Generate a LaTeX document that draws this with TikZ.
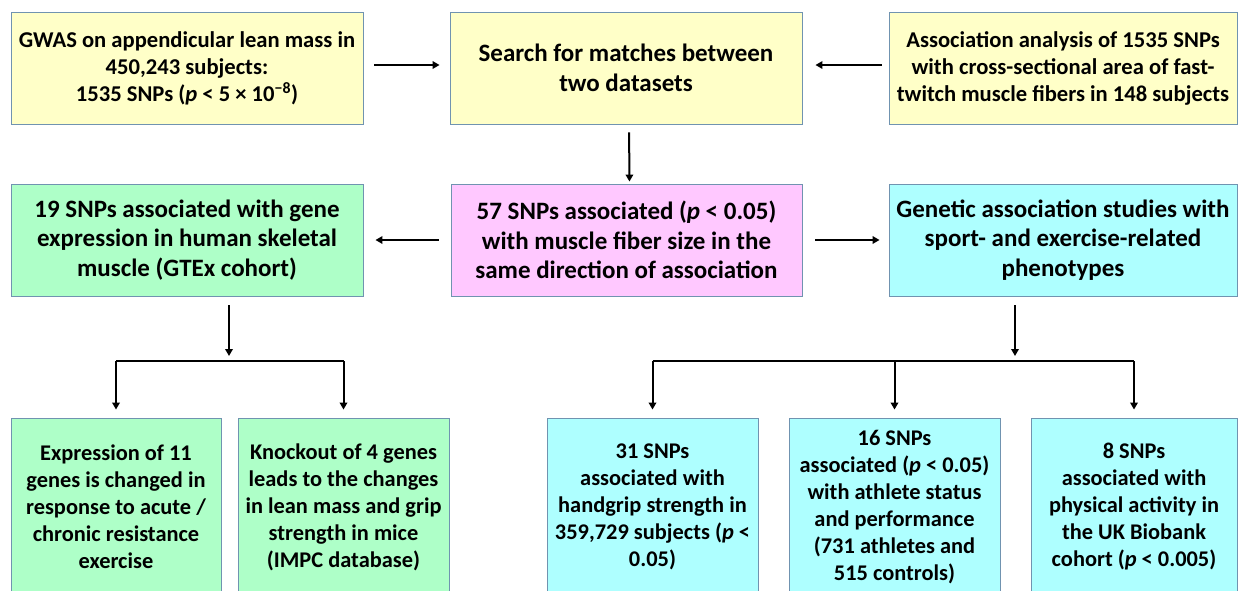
\documentclass[tikz,border=0pt]{standalone}
\usepackage{fontspec}
\setmainfont{Carlito}
\usetikzlibrary{arrows.meta}
\definecolor{byel}{HTML}{FFFFC8}
\definecolor{bgrn}{HTML}{AEFFC8}
\definecolor{bpnk}{HTML}{FFC8FF}
\definecolor{bcyn}{HTML}{AEFFFF}
\definecolor{bedge}{HTML}{7093B0}
\tikzset{
  box/.style={draw=bedge, line width=0.9pt, inner sep=0pt, align=center,
    font=\fontsize{22.6}{27}\selectfont\bfseries, minimum height=112pt},
  bigbox/.style={box, font=\fontsize{25}{29.5}\selectfont\bfseries},
  lowbox/.style={box, minimum height=178pt, font=\fontsize{22.4}{27}\selectfont\bfseries},
  arr/.style={line width=2pt, -{Triangle[length=7pt,width=7.5pt]}},
  bar/.style={line width=2pt}
}
\begin{document}
\begin{tikzpicture}[x=1pt,y=-1pt]
\useasboundingbox (0,0) rectangle (1239,590);
\clip (0,0) rectangle (1239,590);
\fill[white] (0,0) rectangle (1239,590);
% top row
\node[box, fill=byel, minimum width=352pt] (A) at (187,68)
  {GWAS on appendicular lean mass in\\450,243 subjects:\\1535 SNPs (\textit{p} < 5 × 10\textsuperscript{−8})};
\node[bigbox, fill=byel, minimum width=352pt] (B) at (626,68)
  {Search for matches between\\two datasets};
\node[box, fill=byel, minimum width=348pt] (C) at (1063,68)
  {Association analysis of 1535 SNPs\\with cross-sectional area of fast-\\twitch muscle fibers in 148 subjects};
% middle row
\node[bigbox, fill=bgrn, minimum width=352pt] (D) at (187,240)
  {19 SNPs associated with gene\\expression in human skeletal\\muscle (GTEx cohort)};
\node[bigbox, fill=bpnk, minimum width=351pt] (E) at (626.5,240)
  {57 SNPs associated (\textit{p} < 0.05)\\with muscle fiber size in the\\same direction of association};
\node[bigbox, fill=bcyn, minimum width=348pt] (F) at (1063,240)
  {Genetic association studies with\\sport- and exercise-related\\phenotypes};
% bottom row
\node[lowbox, fill=bgrn, minimum width=210pt] (G) at (116,507)
  {Expression of 11\\genes is changed in\\response to acute /\\chronic resistance\\exercise};
\node[lowbox, fill=bgrn, minimum width=211pt] (H) at (343.5,507)
  {Knockout of 4 genes\\leads to the changes\\in lean mass and grip\\strength in mice\\(IMPC database)};
\node[lowbox, fill=bcyn, minimum width=211pt] (I) at (652.5,507)
  {31 SNPs\\associated with\\handgrip strength in\\359,729 subjects (\textit{p} <\\0.05)};
\node[lowbox, fill=bcyn, minimum width=211pt] (J) at (894.5,507)
  {16 SNPs\\associated (\textit{p} < 0.05)\\with athlete status\\and performance\\(731 athletes and\\515 controls)};
\node[lowbox, fill=bcyn, minimum width=206pt] (K) at (1134,507)
  {8 SNPs\\associated with\\physical activity in\\the UK Biobank\\cohort (\textit{p} < 0.005)};
% junction coordinates
\coordinate (bl) at (229,361);
\coordinate (br) at (1015,361);
% top arrows
\draw[arr, shorten <=11pt, shorten >=10pt] ([yshift=3pt]A.east) -- ([yshift=3pt]B.west);
\draw[arr, shorten <=7pt, shorten >=13pt] ([yshift=3pt]C.west) -- ([yshift=3pt]B.west -| B.east);
\draw[arr, shorten <=8pt, shorten >=2pt] ([xshift=3pt]B.south) -- ([xshift=3pt]E.north);
% middle arrows
\draw[arr, shorten <=12pt, shorten >=12pt] (E.west) -- (D.east);
\draw[arr, shorten <=13pt, shorten >=9pt] (E.east) -- (F.west);
% left tree
\draw[arr, shorten <=9pt, shorten >=5pt] (D.south -| bl) -- (bl);
\draw[bar] (G.north |- bl) -- (H.north |- bl);
\draw[arr, shorten >=8pt] (G.north |- bl) -- (G.north);
\draw[arr, shorten >=8pt] (H.north |- bl) -- (H.north);
% right tree
\draw[arr, shorten <=9pt, shorten >=5pt] (F.south -| br) -- (br);
\draw[bar] (I.north |- br) -- (K.north |- br);
\draw[arr, shorten >=8pt] (I.north |- br) -- (I.north);
\draw[arr, shorten >=8pt] (J.north |- br) -- (J.north);
\draw[arr, shorten >=8pt] (K.north |- br) -- (K.north);
\end{tikzpicture}
\end{document}
